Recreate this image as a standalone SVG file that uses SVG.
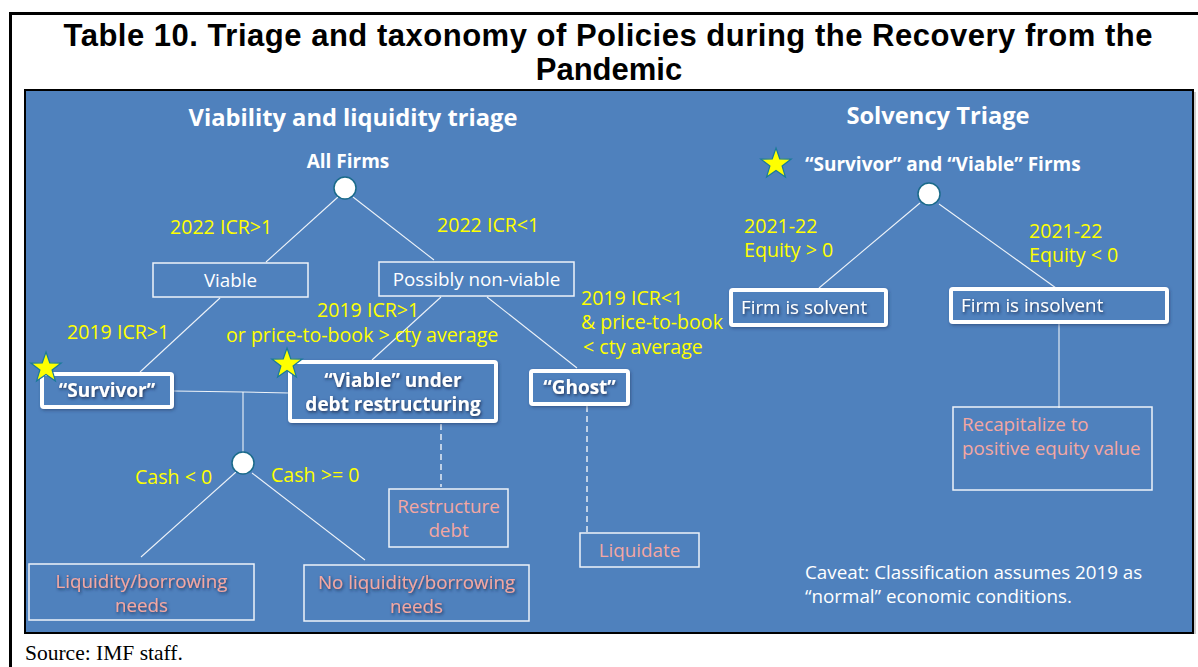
<svg xmlns="http://www.w3.org/2000/svg" width="1198" height="667" viewBox="0 0 1198 667">
<style>
.t{font-family:"Open Sans","Noto Sans",sans-serif}
.hd{font-family:"Open Sans","Noto Sans",sans-serif;font-weight:700;fill:#fff;font-size:23.7px}
.bw{font-family:"Open Sans","Noto Sans",sans-serif;font-weight:700;fill:#fff;font-size:19px}
.y{font-family:"Open Sans","Noto Sans",sans-serif;fill:#ffff00;font-size:19.6px}
.pk{font-family:"Open Sans","Noto Sans",sans-serif;fill:#f4a7a1;font-size:18.8px}
.wt{font-family:"Open Sans","Noto Sans",sans-serif;fill:#fff;font-size:18.8px}
.thin{fill:none;stroke:#fff;stroke-width:1.5;opacity:.9}
.thick{fill:#4f81bd;stroke:#fff;stroke-width:4;filter:url(#bs)}
.ln{stroke:#fff;stroke-width:1.1;fill:none;opacity:.9}
.dash{stroke:#fff;stroke-width:1.5;stroke-dasharray:6 4;fill:none;opacity:.85}
.node{fill:#fff;stroke:#1a6a8a;stroke-width:1.5}
.star{fill:#ffff00;stroke:#1a7a9a;stroke-width:1.2}
</style>
<defs>
<filter id="ts" x="-10%" y="-30%" width="120%" height="160%">
<feDropShadow dx="1" dy="1.5" stdDeviation="1.6" flood-color="#14264a" flood-opacity="0.85"/>
</filter>
<filter id="bs" x="-10%" y="-20%" width="120%" height="140%">
<feDropShadow dx="1" dy="1.5" stdDeviation="1.5" flood-color="#1c3358" flood-opacity="0.5"/>
</filter>
<polygon id="st" points="0,-16 3.76,-5.18 15.22,-4.94 6.09,1.98 9.4,12.94 0,6.4 -9.4,12.94 -6.09,1.98 -15.22,-4.94 -3.76,-5.18"/>
</defs>
<rect width="1198" height="667" fill="#fff"/>
<line x1="9" y1="13.5" x2="1198" y2="13.5" stroke="#000" stroke-width="3"/>
<line x1="10.5" y1="12" x2="10.5" y2="667" stroke="#000" stroke-width="3"/>
<text x="608" y="46" text-anchor="middle" font-family="'Liberation Sans',Arial,sans-serif" font-weight="700" font-size="31" textLength="1089" lengthAdjust="spacing">Table 10. Triage and taxonomy of Policies during the Recovery from the</text>
<text x="609" y="80" text-anchor="middle" font-family="'Liberation Sans',Arial,sans-serif" font-weight="700" font-size="31">Pandemic</text>
<line x1="1195" y1="92" x2="1195" y2="634" stroke="#bbb" stroke-width="1.5"/>
<rect x="25" y="90" width="1168" height="543" fill="#4f81bd" stroke="#000" stroke-width="2"/>
<text x="25" y="660" font-family="'Liberation Serif','Times New Roman',serif" font-size="21.5">Source: IMF staff.</text>
<text class="hd" x="353" y="126" text-anchor="middle">Viability and liquidity triage</text>
<text class="hd" x="938" y="124" text-anchor="middle">Solvency Triage</text>
<g id="connectors">
<line class="ln" x1="338" y1="197" x2="266" y2="262"/>
<line class="ln" x1="353" y1="197" x2="434" y2="260"/>
<line class="ln" x1="220" y1="298" x2="140" y2="372"/>
<line class="ln" x1="441" y1="297" x2="372" y2="360"/>
<line class="ln" x1="487" y1="297" x2="577" y2="368"/>
<polyline class="ln" points="174,391 243,392 289,393" stroke="#d8e4f4"/>
<line class="ln" x1="243" y1="392" x2="243" y2="452"/>
<line class="ln" x1="236" y1="472" x2="141" y2="557"/>
<line class="ln" x1="252" y1="473" x2="365" y2="560"/>
<line class="dash" x1="441" y1="424" x2="441" y2="487"/>
<line class="dash" x1="587" y1="406" x2="587" y2="532"/>
<line class="ln" x1="920" y1="203" x2="819" y2="288"/>
<line class="ln" x1="939" y1="204" x2="1056" y2="288"/>
<line class="ln" x1="1059" y1="323" x2="1059" y2="408"/>
</g>
<g id="allfirms">
<text class="bw" x="348" y="168" text-anchor="middle">All Firms</text>
<circle class="node" cx="345" cy="188" r="11"/>
</g>
<g id="labels-left">
<text class="y" x="170" y="234">2022 ICR&gt;1</text>
<text class="y" x="437" y="232">2022 ICR&lt;1</text>
<text class="y" x="67" y="339">2019 ICR&gt;1</text>
<text class="y" x="317" y="317">2019 ICR&gt;1</text>
<text class="y" x="226" y="342">or price-to-book &gt; cty average</text>
<text class="y" x="581" y="305">2019 ICR&lt;1</text>
<text class="y" x="581" y="329">&amp; price-to-book</text>
<text class="y" x="583" y="354">&lt; cty average</text>
<text class="y" x="135" y="484">Cash &lt; 0</text>
<text class="y" x="271" y="482">Cash &gt;= 0</text>
</g>
<g id="viable">
<rect class="thin" x="153" y="263" width="155" height="34"/>
<text class="wt" x="230.5" y="287" text-anchor="middle">Viable</text>
</g>
<g id="possibly">
<rect class="thin" x="379" y="262" width="195" height="34"/>
<text class="wt" x="476.5" y="286" text-anchor="middle">Possibly non-viable</text>
</g>
<g id="survivor">
<rect class="thick" x="42" y="374" width="130" height="33" rx="2"/>
<text class="bw" x="107" y="397" text-anchor="middle" filter="url(#ts)">“Survivor”</text>
<use href="#st" class="star" x="46" y="368"/>
</g>
<g id="viable-restructuring">
<rect class="thick" x="290" y="362" width="206" height="59" rx="2"/>
<text class="bw" x="393" y="387" text-anchor="middle" filter="url(#ts)">“Viable” under</text>
<text class="bw" x="393" y="411" text-anchor="middle" filter="url(#ts)">debt restructuring</text>
<use href="#st" class="star" x="287" y="364"/>
</g>
<g id="ghost">
<rect class="thick" x="531" y="371" width="97" height="33" rx="2"/>
<text class="bw" x="579.5" y="394" text-anchor="middle" filter="url(#ts)">“Ghost”</text>
</g>
<g id="cashnode">
<circle class="node" cx="243" cy="463" r="11"/>
</g>
<g id="liquidity">
<rect class="thin" x="29" y="564" width="225" height="56"/>
<text class="pk" x="141.5" y="588" text-anchor="middle" filter="url(#ts)">Liquidity/borrowing</text>
<text class="pk" x="141.5" y="612" text-anchor="middle" filter="url(#ts)">needs</text>
</g>
<g id="noliquidity">
<rect class="thin" x="304" y="565" width="225" height="56"/>
<text class="pk" x="416.5" y="589" text-anchor="middle" filter="url(#ts)">No liquidity/borrowing</text>
<text class="pk" x="416.5" y="613" text-anchor="middle" filter="url(#ts)">needs</text>
</g>
<g id="restructure">
<rect class="thin" x="389" y="489" width="119" height="58"/>
<text class="pk" x="448.5" y="513" text-anchor="middle">Restructure</text>
<text class="pk" x="448.5" y="537" text-anchor="middle">debt</text>
</g>
<g id="liquidate">
<rect class="thin" x="580" y="533" width="119" height="34"/>
<text class="pk" x="639.5" y="557" text-anchor="middle">Liquidate</text>
</g>
<g id="solvency-root">
<use href="#st" class="star" x="776" y="164"/>
<text class="bw" x="805" y="171">“Survivor” and “Viable” Firms</text>
<circle class="node" cx="929" cy="194" r="11"/>
</g>
<g id="labels-right">
<text class="y" x="744" y="233">2021-22</text>
<text class="y" x="744" y="257">Equity &gt; 0</text>
<text class="y" x="1029" y="238">2021-22</text>
<text class="y" x="1029" y="262">Equity &lt; 0</text>
</g>
<g id="solvent">
<rect class="thick" x="731" y="290" width="155" height="35" rx="2"/>
<text class="wt" x="741" y="314" filter="url(#ts)">Firm is solvent</text>
</g>
<g id="insolvent">
<rect class="thick" x="951" y="289" width="216" height="33" rx="2"/>
<text class="wt" x="961" y="312" filter="url(#ts)">Firm is insolvent</text>
</g>
<g id="recapitalize">
<rect class="thin" x="953" y="407" width="199" height="83"/>
<text class="pk" x="962" y="431">Recapitalize to</text>
<text class="pk" x="962" y="455">positive equity value</text>
</g>
<g id="caveat">
<text class="wt" x="805" y="579" font-size="17.5">Caveat: Classification assumes 2019 as</text>
<text class="wt" x="805" y="603" font-size="17.5">“normal” economic conditions.</text>
</g>
</svg>
